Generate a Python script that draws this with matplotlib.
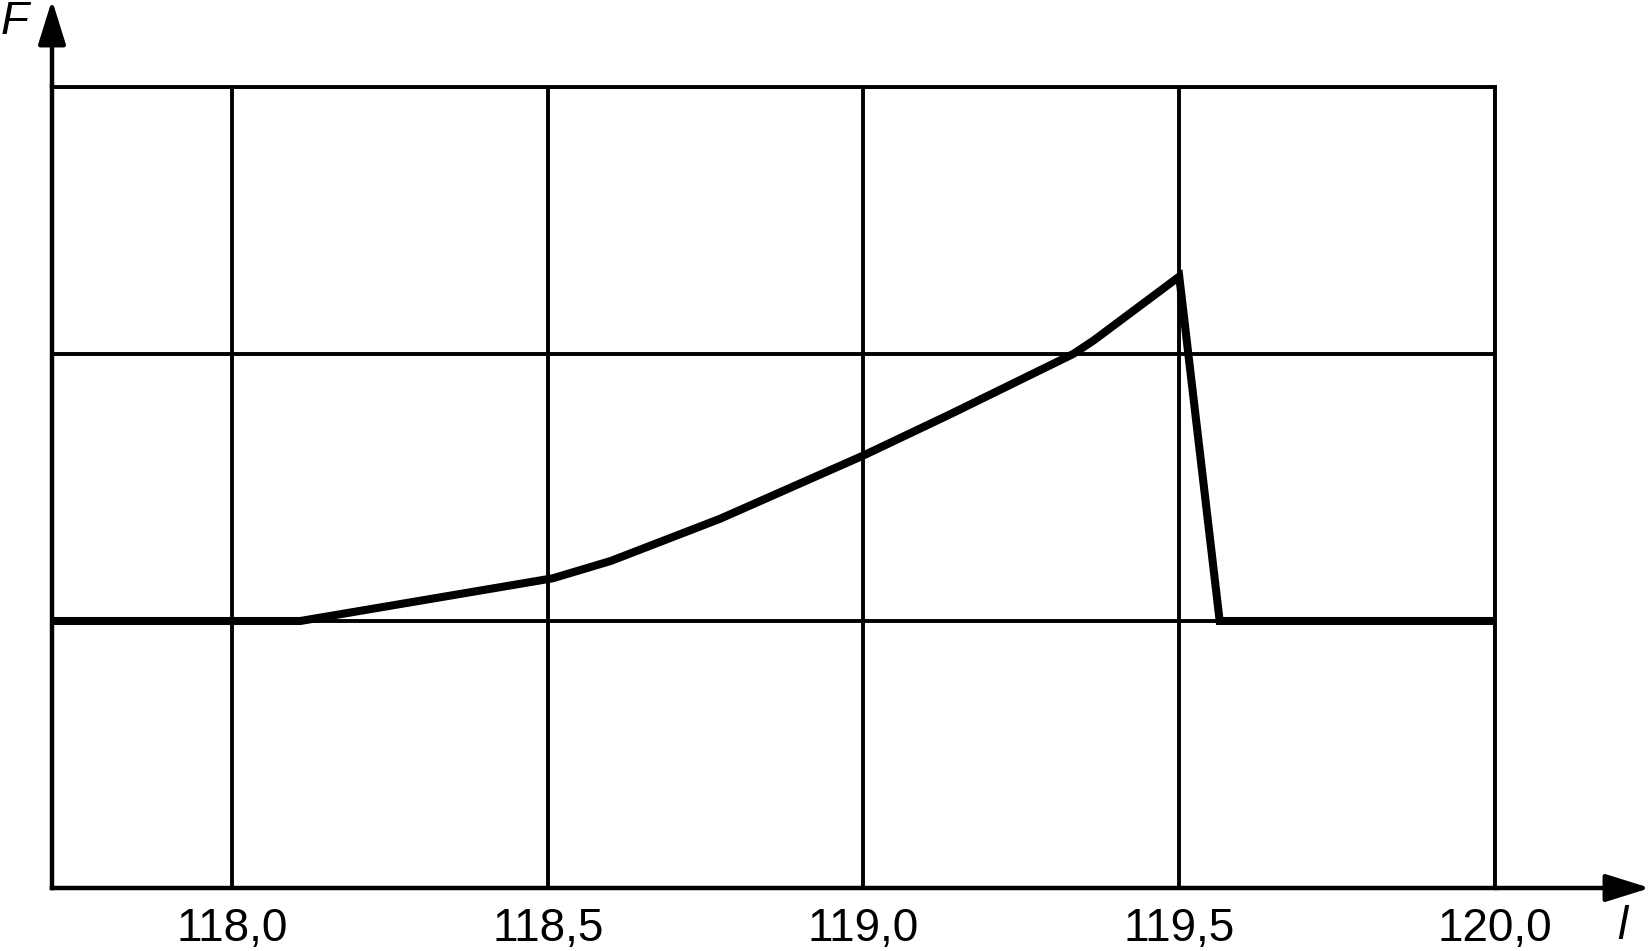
import numpy as np
import matplotlib
matplotlib.use("Agg")
import matplotlib.pyplot as plt

plt.rcParams['font.family'] = ['Liberation Sans', 'DejaVu Sans']

# curve: length l vs force F
l = [117.715, 118.108, 118.508, 118.6, 118.773, 119.0, 119.137, 119.332, 119.364, 119.5, 119.564, 120.0]
F = [1.0, 1.0, 1.16, 1.225, 1.383, 1.62, 1.774, 2.0, 2.05, 2.29, 1.0, 1.0]

xticks = [118.0, 118.5, 119.0, 119.5, 120.0]
xtickLabels = ["118,0", "118,5", "119,0", "119,5", "120,0"]
ygrid = [1, 2, 3]

W, H = 1652, 951
fig = plt.figure(figsize=(W/100, H/100), dpi=100)
left, right, top, bottom = 52, 1495, 87, 888
ax = fig.add_axes([left/W, 1-bottom/H, (right-left)/W, (bottom-top)/H])

ax.set_xlim(117.715, 120.0)
ax.set_ylim(0, 3)

for x in xticks:
    ax.axvline(x, color="black", lw=2.8, zorder=1)
for y in ygrid:
    ax.axhline(y, color="black", lw=2.8, zorder=1)

ax.plot(l, F, color="black", lw=5.8, solid_joinstyle="miter", zorder=3)

for s in ax.spines.values():
    s.set_linewidth(2.8)
ax.spines["left"].set_linewidth(3.2)
ax.spines["bottom"].set_linewidth(3.2)

ax.set_xticks(xticks)
ax.set_xticklabels(xtickLabels, fontsize=33)
ax.set_yticks([])
ax.tick_params(axis="x", length=0, pad=14)

# axis arrows
xspan = right - left
yspan = bottom - top
arrow = dict(arrowstyle="-|>,head_length=0.8,head_width=0.25", mutation_scale=34,
             lw=3.2, color="black", shrinkA=0, shrinkB=0)
ax.annotate("", xy=((1650-left)/xspan, 0), xytext=(1, 0),
            xycoords="axes fraction", textcoords="axes fraction",
            arrowprops=arrow, annotation_clip=False)
ax.annotate("", xy=(0, bottom/yspan), xytext=(0, 1),
            xycoords="axes fraction", textcoords="axes fraction",
            arrowprops=arrow, annotation_clip=False)

ax.text((1622-left)/xspan, (bottom-927)/yspan, "l", fontsize=33, style="italic",
        ha="center", va="center", transform=ax.transAxes)
ax.text((15-left)/xspan, (bottom-22)/yspan, "F", fontsize=33, style="italic",
        ha="center", va="center", transform=ax.transAxes)

fig.savefig("out.png", dpi=100)
